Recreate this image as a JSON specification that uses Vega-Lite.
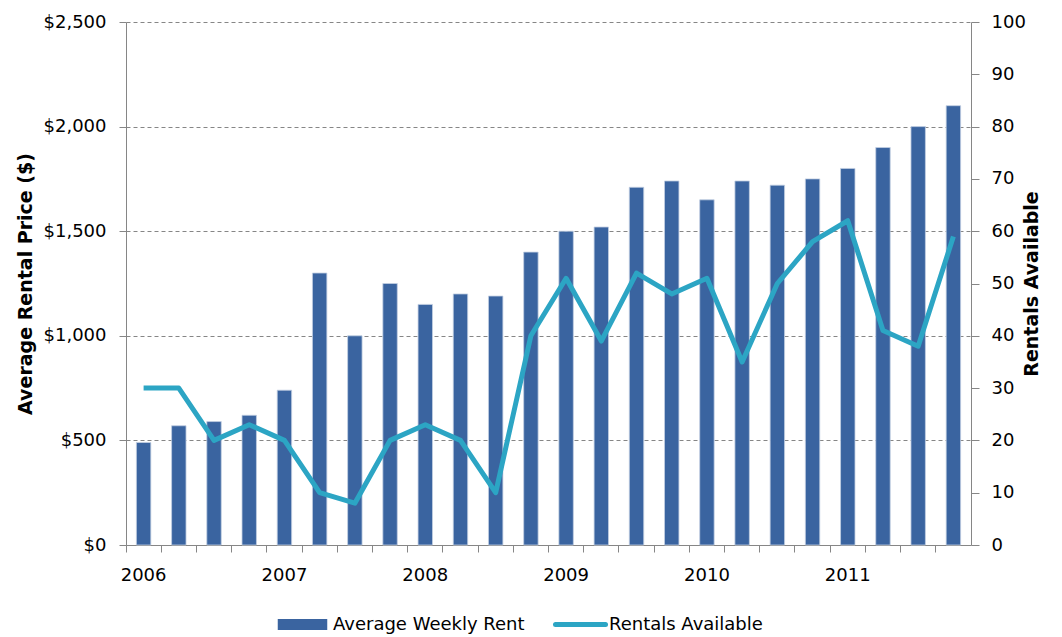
{
  "$schema": "https://vega.github.io/schema/vega-lite/v6.json",
  "width": 845,
  "height": 523,
  "autosize": {"type": "none"},
  "padding": {"left": 126, "top": 22, "right": 91, "bottom": 92},
  "background": "white",
  "config": {
    "font": "DejaVu Sans",
    "view": {"stroke": null},
    "axis": {"labelFont": "DejaVu Sans", "titleFont": "DejaVu Sans", "labelColor": "#000000", "titleColor": "#000000", "domainColor": "#868686", "tickColor": "#868686", "labelFontSize": 18, "titleFontSize": 19, "titleFontWeight": "bold"},
    "legend": {"labelFont": "DejaVu Sans", "labelFontSize": 18, "labelColor": "#000000", "labelLimit": 400}
  },
  "data": {
    "values": [
      {"quarter": "2006-Q1", "rent": 490, "rentals": 30},
      {"quarter": "2006-Q2", "rent": 570, "rentals": 30},
      {"quarter": "2006-Q3", "rent": 590, "rentals": 20},
      {"quarter": "2006-Q4", "rent": 620, "rentals": 23},
      {"quarter": "2007-Q1", "rent": 740, "rentals": 20},
      {"quarter": "2007-Q2", "rent": 1300, "rentals": 10},
      {"quarter": "2007-Q3", "rent": 1000, "rentals": 8},
      {"quarter": "2007-Q4", "rent": 1250, "rentals": 20},
      {"quarter": "2008-Q1", "rent": 1150, "rentals": 23},
      {"quarter": "2008-Q2", "rent": 1200, "rentals": 20},
      {"quarter": "2008-Q3", "rent": 1190, "rentals": 10},
      {"quarter": "2008-Q4", "rent": 1400, "rentals": 40},
      {"quarter": "2009-Q1", "rent": 1500, "rentals": 51},
      {"quarter": "2009-Q2", "rent": 1520, "rentals": 39},
      {"quarter": "2009-Q3", "rent": 1710, "rentals": 52},
      {"quarter": "2009-Q4", "rent": 1740, "rentals": 48},
      {"quarter": "2010-Q1", "rent": 1650, "rentals": 51},
      {"quarter": "2010-Q2", "rent": 1740, "rentals": 35},
      {"quarter": "2010-Q3", "rent": 1720, "rentals": 50},
      {"quarter": "2010-Q4", "rent": 1750, "rentals": 58},
      {"quarter": "2011-Q1", "rent": 1800, "rentals": 62},
      {"quarter": "2011-Q2", "rent": 1900, "rentals": 41},
      {"quarter": "2011-Q3", "rent": 2000, "rentals": 38},
      {"quarter": "2011-Q4", "rent": 2100, "rentals": 59}
    ]
  },
  "encoding": {
    "x": {
      "field": "quarter",
      "type": "ordinal",
      "sort": null,
      "scale": {"paddingInner": 0, "paddingOuter": 0},
      "axis": {
        "title": null,
        "labelAngle": 0,
        "bandPosition": 0,
        "labelAlign": "center",
        "tickSize": 7,
        "labelPadding": 14,
        "grid": false,
        "labelExpr": "indexof(datum.value, 'Q1') >= 0 ? slice(datum.value, 0, 4) : ''"
      }
    }
  },
  "layer": [
    {
      "mark": {"type": "bar", "width": {"band": 0.41}, "stroke": "#c3cfe2", "strokeWidth": 0.8},
      "encoding": {
        "y": {
          "field": "rent",
          "type": "quantitative",
          "scale": {"domain": [0, 2500]},
          "axis": {
            "title": "Average Rental Price ($)",
            "values": [0, 500, 1000, 1500, 2000, 2500],
            "format": "$,.0f",
            "tickSize": 7,
            "labelPadding": 13,
            "titlePadding": 8,
            "grid": true,
            "gridColor": "#868686",
            "gridDash": [4, 3]
          }
        },
        "color": {
          "datum": "Average Weekly Rent",
          "type": "nominal",
          "scale": {"range": ["#3A64A0"]},
          "legend": {
            "title": null,
            "orient": "none",
            "legendX": 146,
            "legendY": 572,
            "symbolType": "stroke",
            "symbolSize": 2450,
            "symbolStrokeWidth": 11,
            "symbolStrokeColor": "#3A64A0",
            "labelOffset": 0
          }
        }
      }
    },
    {
      "mark": {"type": "line", "strokeWidth": 5, "strokeJoin": "round"},
      "encoding": {
        "y": {
          "field": "rentals",
          "type": "quantitative",
          "scale": {"domain": [0, 100]},
          "axis": {
            "orient": "right",
            "title": "Rentals Available",
            "titleAngle": 270,
            "values": [0, 10, 20, 30, 40, 50, 60, 70, 80, 90, 100],
            "tickSize": 8,
            "labelPadding": 12,
            "titlePadding": 16,
            "grid": false
          }
        },
        "stroke": {
          "datum": "Rentals Available",
          "type": "nominal",
          "scale": {"range": ["#2CA5C4"]},
          "legend": {
            "title": null,
            "orient": "none",
            "legendX": 427,
            "legendY": 575,
            "symbolType": "stroke",
            "symbolSize": 2500,
            "symbolStrokeWidth": 5,
            "labelOffset": 1,
            "encode": {"symbols": {"update": {"strokeCap": {"value": "round"}}}}
          }
        }
      }
    }
  ],
  "resolve": {"scale": {"y": "independent"}}
}
